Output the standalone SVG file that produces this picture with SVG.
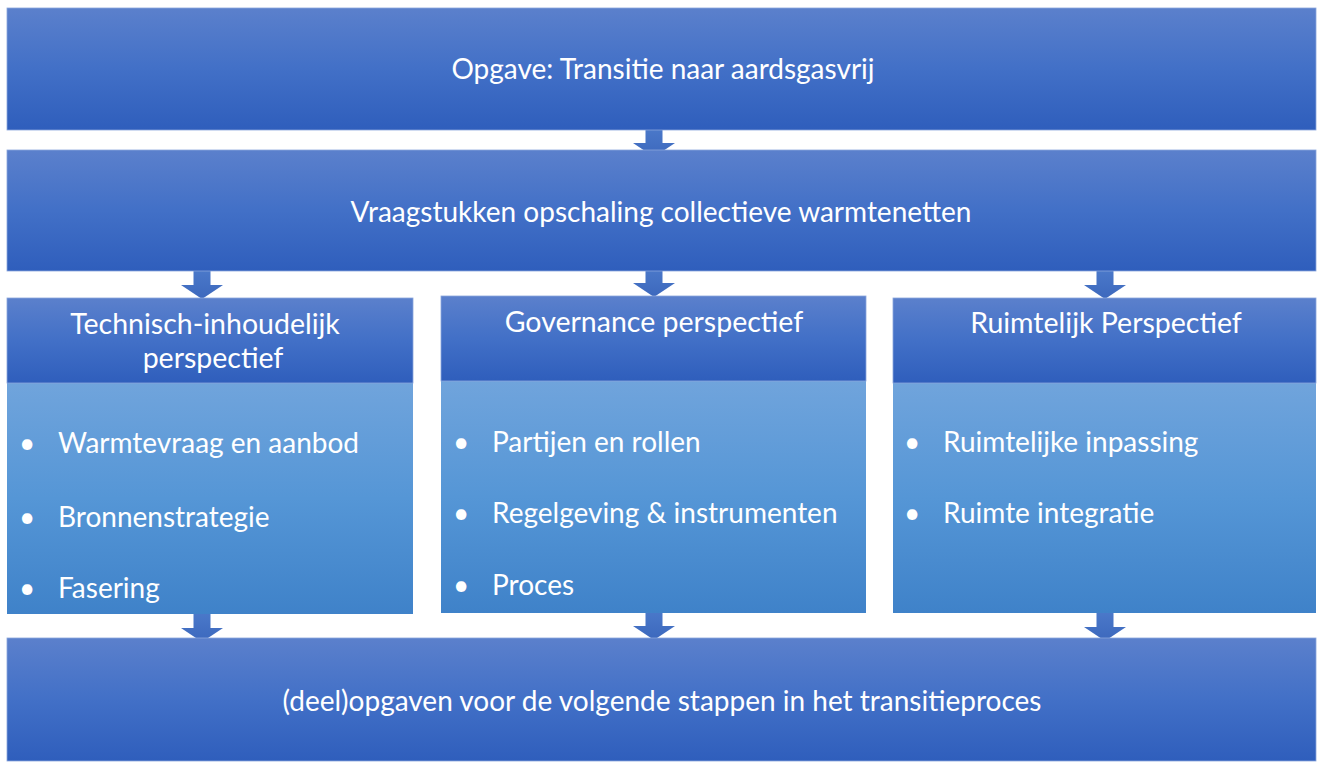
<svg xmlns="http://www.w3.org/2000/svg" width="1322" height="767" viewBox="0 0 1322 767">
<defs>
<linearGradient id="gDark" x1="0" y1="0" x2="0" y2="1">
<stop offset="0" stop-color="#5b80cc"/>
<stop offset="0.5" stop-color="#4270c7"/>
<stop offset="1" stop-color="#2f5ebc"/>
</linearGradient>
<linearGradient id="gLight" x1="0" y1="0" x2="0" y2="1">
<stop offset="0" stop-color="#70a4dc"/>
<stop offset="0.5" stop-color="#5596d6"/>
<stop offset="1" stop-color="#3f82c9"/>
</linearGradient>
<linearGradient id="gArrow" x1="0" y1="0" x2="0" y2="1">
<stop offset="0" stop-color="#4a78c9"/>
<stop offset="1" stop-color="#3c68bd"/>
</linearGradient>
<path id="arr" d="M-8.5,0 H8.5 V14 H21 L0,28 L-21,14 H-8.5 Z"/>
</defs>
<style>
.t{font-family:Lato,"Open Sans","Liberation Sans",sans-serif;fill:#ffffff;}
.big{font-size:28px;}
.hd{font-size:28.5px;}
.it{font-size:28px;}
.box{stroke:#8aa6dc;stroke-width:0.8;}
</style>
<rect width="1322" height="767" fill="#ffffff"/>
<g id="connectors" fill="url(#gArrow)">
<use href="#arr" x="654" y="129"/>
<use href="#arr" x="202" y="271"/>
<use href="#arr" x="654" y="269"/>
<use href="#arr" x="1105" y="271"/>
<use href="#arr" x="202" y="614"/>
<use href="#arr" x="654" y="612"/>
<use href="#arr" x="1105" y="613"/>
</g>
<g id="top">
<rect class="box" x="7" y="8" width="1309" height="122" fill="url(#gDark)"/>
<text class="t big" x="663" y="79" text-anchor="middle">Opgave: Transitie naar aardsgasvrij</text>
</g>
<g id="vraagstukken">
<rect class="box" x="7" y="150" width="1309" height="121" fill="url(#gDark)"/>
<text class="t big" x="661" y="222" text-anchor="middle">Vraagstukken opschaling collectieve warmtenetten</text>
</g>
<g id="technisch">
<rect x="7" y="383" width="406" height="231" fill="url(#gLight)"/>
<rect class="box" x="7" y="298" width="406" height="85" fill="url(#gDark)"/>
<text class="t hd" x="205" y="334" text-anchor="middle">Technisch-inhoudelijk</text>
<text class="t hd" x="213" y="368" text-anchor="middle">perspectief</text>
<g class="t it">
<text x="19" y="453">•</text><text x="58" y="453">Warmtevraag en aanbod</text>
<text x="19" y="527">•</text><text x="58" y="527">Bronnenstrategie</text>
<text x="19" y="598">•</text><text x="58" y="598">Fasering</text>
</g>
</g>
<g id="governance">
<rect x="441" y="381" width="425" height="232" fill="url(#gLight)"/>
<rect class="box" x="441" y="296" width="425" height="85" fill="url(#gDark)"/>
<text class="t hd" x="654" y="332" text-anchor="middle">Governance perspectief</text>
<g class="t it">
<text x="453" y="452">•</text><text x="492" y="452">Partijen en rollen</text>
<text x="453" y="523">•</text><text x="492" y="523">Regelgeving &amp; instrumenten</text>
<text x="453" y="595">•</text><text x="492" y="595">Proces</text>
</g>
</g>
<g id="ruimtelijk">
<rect x="893" y="383" width="423" height="230" fill="url(#gLight)"/>
<rect class="box" x="893" y="298" width="423" height="85" fill="url(#gDark)"/>
<text class="t hd" x="1106" y="333" text-anchor="middle">Ruimtelijk Perspectief</text>
<g class="t it">
<text x="904" y="452">•</text><text x="943" y="452">Ruimtelijke inpassing</text>
<text x="904" y="523">•</text><text x="943" y="523">Ruimte integratie</text>
</g>
</g>
<g id="deelopgaven">
<rect class="box" x="7" y="638" width="1309" height="123" fill="url(#gDark)"/>
<text class="t big" x="662" y="711" text-anchor="middle">(deel)opgaven voor de volgende stappen in het transitieproces</text>
</g>
</svg>
